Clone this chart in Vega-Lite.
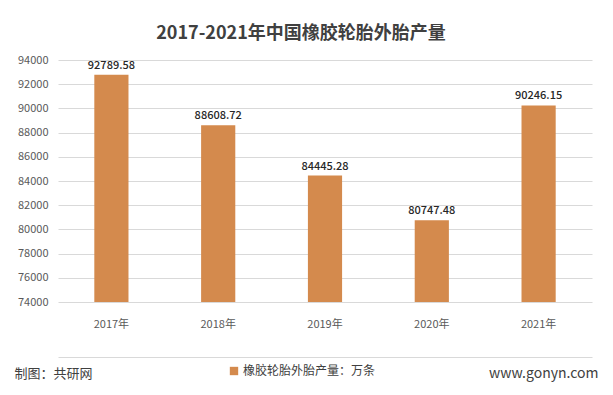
{
  "$schema": "https://vega.github.io/schema/vega-lite/v6.json",
  "width": 534,
  "height": 242,
  "autosize": {"type": "none"},
  "padding": {"left": 58, "top": 60, "right": 21, "bottom": 93},
  "background": "#ffffff",
  "title": {
    "text": "2017-2021年中国橡胶轮胎外胎产量",
    "fontSize": 18,
    "fontWeight": "bold",
    "color": "#404040",
    "font": "Noto Sans CJK SC",
    "anchor": "middle",
    "dx": -24,
    "offset": 11
  },
  "data": {
    "values": [
      {"year": "2017年", "value": 92789.58, "label": "92789.58", "series": "橡胶轮胎外胎产量：万条"},
      {"year": "2018年", "value": 88608.72, "label": "88608.72", "series": "橡胶轮胎外胎产量：万条"},
      {"year": "2019年", "value": 84445.28, "label": "84445.28", "series": "橡胶轮胎外胎产量：万条"},
      {"year": "2020年", "value": 80747.48, "label": "80747.48", "series": "橡胶轮胎外胎产量：万条"},
      {"year": "2021年", "value": 90246.15, "label": "90246.15", "series": "橡胶轮胎外胎产量：万条"}
    ]
  },
  "encoding": {
    "x": {
      "field": "year",
      "type": "nominal",
      "sort": null,
      "scale": {"paddingInner": 0.68, "paddingOuter": 0.34},
      "axis": {
        "title": "制图：共研网",
        "titleFont": "Noto Sans CJK SC",
        "titleFontSize": 13,
        "titleFontWeight": "normal",
        "titleColor": "#404040",
        "titleAnchor": "start",
        "titleAlign": "left",
        "titleBaseline": "middle",
        "titleX": -44,
        "titleY": 16,
        "offset": 55,
        "labelAngle": 0,
        "labelBaseline": "middle",
        "labelFont": "Noto Sans CJK SC",
        "labelFontSize": 11,
        "labelColor": "#595959",
        "labelPadding": -33,
        "ticks": false,
        "domain": true,
        "domainColor": "#D9D9D9",
        "grid": false
      }
    },
    "y": {
      "field": "value",
      "type": "quantitative",
      "scale": {"domain": [74000, 94000], "zero": false, "nice": false},
      "axis": {
        "values": [74000, 76000, 78000, 80000, 82000, 84000, 86000, 88000, 90000, 92000, 94000],
        "labelOverlap": false,
        "title": "www.gonyn.com",
        "titleFont": "Noto Sans CJK SC",
        "titleFontSize": 14,
        "titleFontWeight": "normal",
        "titleColor": "#404040",
        "titleAngle": 0,
        "titleAlign": "right",
        "titleBaseline": "middle",
        "titleX": 540,
        "titleY": 313,
        "labelFont": "Noto Sans CJK SC",
        "labelFontSize": 11,
        "labelColor": "#595959",
        "labelPadding": 10,
        "ticks": false,
        "domain": false,
        "gridColor": "#D9D9D9",
        "format": "d"
      }
    }
  },
  "layer": [
    {
      "mark": {"type": "bar", "color": "#D48A4D"},
      "encoding": {
        "y2": {"datum": 74000},
        "color": {
          "field": "series",
          "type": "nominal",
          "scale": {"range": ["#D48A4D"]},
          "legend": {
            "title": null,
            "orient": "none",
            "legendX": 170,
            "legendY": 305,
            "symbolType": "square",
            "symbolSize": 70,
            "symbolOpacity": 1,
            "labelFont": "Noto Sans CJK SC",
            "labelFontSize": 12,
            "labelColor": "#404040",
            "labelOffset": 3
          }
        }
      }
    },
    {
      "mark": {"type": "text", "baseline": "bottom", "dy": -4, "font": "Noto Sans CJK SC", "fontSize": 11, "fontWeight": 500, "color": "#262626"},
      "encoding": {
        "text": {"field": "label"}
      }
    }
  ],
  "config": {"view": {"stroke": null}}
}
